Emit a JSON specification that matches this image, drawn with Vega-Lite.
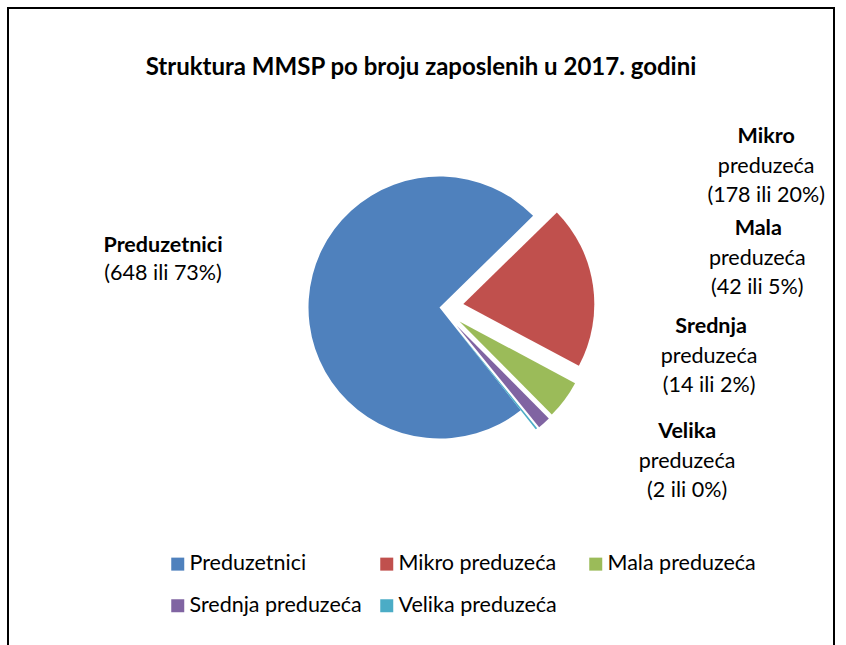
{
  "$schema": "https://vega.github.io/schema/vega-lite/v6.json",
  "width": 826,
  "height": 652,
  "autosize": {"type": "none"},
  "padding": {"left": 8, "top": 8, "right": 12, "bottom": 0},
  "background": "white",
  "config": {"view": {"stroke": null}, "font": "Lato"},
  "title": {"text": "Struktura MMSP po broju zaposlenih u 2017. godini", "font": "Lato", "fontSize": 24, "fontWeight": "bold", "color": "#000000", "anchor": "middle", "offset": -83},
  "data": {"values": [
    {"cat": "Preduzetnici", "name": "Preduzetnici", "value": 648, "rest": "(648 ili 73%)"},
    {"cat": "Mikro preduzeća", "name": "Mikro", "value": 178, "rest": "preduzeća\n(178 ili 20%)"},
    {"cat": "Mala preduzeća", "name": "Mala", "value": 42, "rest": "preduzeća\n(42 ili 5%)"},
    {"cat": "Srednja preduzeća", "name": "Srednja", "value": 14, "rest": "preduzeća\n(14 ili 2%)"},
    {"cat": "Velika preduzeća", "name": "Velika", "value": 2, "rest": "preduzeća\n(2 ili 0%)"}
  ]},
  "transform": [{"stack": "value", "groupby": [], "as": ["v0", "v1"]}],
  "layer": [
    {"transform": [{"filter": "datum.name === 'Preduzetnici'"}],
     "mark": {"type": "rect", "fill": null, "stroke": "#000000", "strokeWidth": 2},
     "encoding": {}},
    {"transform": [{"filter": "datum.name === 'Preduzetnici'"}],
     "mark": {"type": "arc", "radius": 131, "xOffset": 18.5, "yOffset": -26.5},
     "encoding": {
       "theta": {"field": "v0", "type": "quantitative", "scale": {"range": [2.4731, 8.7563]}},
       "theta2": {"field": "v1"},
       "color": {"field": "cat", "type": "nominal", "scale": {"domain": ["Preduzetnici", "Mikro preduzeća", "Mala preduzeća", "Srednja preduzeća", "Velika preduzeća"], "range": ["#4F81BD", "#C0504D", "#9BBB59", "#8064A2", "#4BACC6"]},
         "legend": {"title": null, "orient": "none", "legendX": 159, "legendY": 545, "columns": 3, "direction": "horizontal", "gridAlign": "all", "columnPadding": 14, "rowPadding": 19, "symbolType": "square", "symbolSize": 169, "symbolStrokeWidth": 0, "labelFont": "Lato", "labelFontSize": 21.5, "labelColor": "#000000", "labelOffset": 1, "padding": 0, "labelLimit": 300}}
     }},
    {"transform": [{"filter": "datum.name === 'Mikro'"}],
     "mark": {"type": "arc", "radius": 131, "xOffset": 42.3, "yOffset": -29.9},
     "encoding": {
       "theta": {"field": "v0", "type": "quantitative", "scale": {"range": [2.4731, 8.7563]}},
       "theta2": {"field": "v1"},
       "color": {"field": "cat", "type": "nominal"}
     }},
    {"transform": [{"filter": "datum.name === 'Mala'"}],
     "mark": {"type": "arc", "radius": 131, "xOffset": 38.5, "yOffset": -12.5},
     "encoding": {
       "theta": {"field": "v0", "type": "quantitative", "scale": {"range": [2.4731, 8.7563]}},
       "theta2": {"field": "v1"},
       "color": {"field": "cat", "type": "nominal"}
     }},
    {"transform": [{"filter": "datum.name === 'Srednja'"}],
     "mark": {"type": "arc", "radius": 131, "xOffset": 35.5, "yOffset": -8.5},
     "encoding": {
       "theta": {"field": "v0", "type": "quantitative", "scale": {"range": [2.4731, 8.7563]}},
       "theta2": {"field": "v1"},
       "color": {"field": "cat", "type": "nominal"}
     }},
    {"transform": [{"filter": "datum.name === 'Velika'"}],
     "mark": {"type": "arc", "radius": 131, "xOffset": 33.5, "yOffset": -7.5},
     "encoding": {
       "theta": {"field": "v0", "type": "quantitative", "scale": {"range": [2.4731, 8.7563]}},
       "theta2": {"field": "v1"},
       "color": {"field": "cat", "type": "nominal"}
     }},
    {"mark": {"type": "text", "radius": 276, "xOffset": 18.5, "yOffset": -26.5, "dx": -1, "dy": -44, "fontSize": 21.5, "fontWeight": "bold", "align": "center", "baseline": "middle", "color": "#000000"},
     "encoding": {"theta": {"field": "value", "type": "quantitative", "stack": true}, "order": {"field": "v0", "type": "quantitative"}, "detail": {"field": "cat"},
       "text": {"condition": {"test": "datum.name === 'Preduzetnici'", "field": "name"}, "value": ""}}},
    {"mark": {"type": "text", "radius": 276, "xOffset": 18.5, "yOffset": -26.5, "dx": -1, "dy": -16, "fontSize": 21.5, "align": "center", "baseline": "middle", "color": "#000000", "lineBreak": "\n", "lineHeight": 29},
     "encoding": {"theta": {"field": "value", "type": "quantitative", "stack": true}, "order": {"field": "v0", "type": "quantitative"}, "detail": {"field": "cat"},
       "text": {"condition": {"test": "datum.name === 'Preduzetnici'", "field": "rest"}, "value": ""}}},
    {"mark": {"type": "text", "radius": 330, "xOffset": 18.5, "yOffset": -26.5, "dx": 0, "dy": -124, "fontSize": 21.5, "fontWeight": "bold", "align": "center", "baseline": "middle", "color": "#000000"},
     "encoding": {"theta": {"field": "value", "type": "quantitative", "stack": true}, "order": {"field": "v0", "type": "quantitative"}, "detail": {"field": "cat"},
       "text": {"condition": {"test": "datum.name === 'Mikro'", "field": "name"}, "value": ""}}},
    {"mark": {"type": "text", "radius": 330, "xOffset": 18.5, "yOffset": -26.5, "dx": 0, "dy": -94, "fontSize": 21.5, "align": "center", "baseline": "middle", "color": "#000000", "lineBreak": "\n", "lineHeight": 29},
     "encoding": {"theta": {"field": "value", "type": "quantitative", "stack": true}, "order": {"field": "v0", "type": "quantitative"}, "detail": {"field": "cat"},
       "text": {"condition": {"test": "datum.name === 'Mikro'", "field": "rest"}, "value": ""}}},
    {"mark": {"type": "text", "radius": 300, "xOffset": 18.5, "yOffset": -26.5, "dx": 78, "dy": -257, "fontSize": 21.5, "fontWeight": "bold", "align": "center", "baseline": "middle", "color": "#000000"},
     "encoding": {"theta": {"field": "value", "type": "quantitative", "stack": true}, "order": {"field": "v0", "type": "quantitative"}, "detail": {"field": "cat"},
       "text": {"condition": {"test": "datum.name === 'Mala'", "field": "name"}, "value": ""}}},
    {"mark": {"type": "text", "radius": 300, "xOffset": 18.5, "yOffset": -26.5, "dx": 77, "dy": -227, "fontSize": 21.5, "align": "center", "baseline": "middle", "color": "#000000", "lineBreak": "\n", "lineHeight": 29},
     "encoding": {"theta": {"field": "value", "type": "quantitative", "stack": true}, "order": {"field": "v0", "type": "quantitative"}, "detail": {"field": "cat"},
       "text": {"condition": {"test": "datum.name === 'Mala'", "field": "rest"}, "value": ""}}},
    {"mark": {"type": "text", "radius": 300, "xOffset": 18.5, "yOffset": -26.5, "dx": 71, "dy": -204, "fontSize": 21.5, "fontWeight": "bold", "align": "center", "baseline": "middle", "color": "#000000"},
     "encoding": {"theta": {"field": "value", "type": "quantitative", "stack": true}, "order": {"field": "v0", "type": "quantitative"}, "detail": {"field": "cat"},
       "text": {"condition": {"test": "datum.name === 'Srednja'", "field": "name"}, "value": ""}}},
    {"mark": {"type": "text", "radius": 300, "xOffset": 18.5, "yOffset": -26.5, "dx": 69, "dy": -174, "fontSize": 21.5, "align": "center", "baseline": "middle", "color": "#000000", "lineBreak": "\n", "lineHeight": 29},
     "encoding": {"theta": {"field": "value", "type": "quantitative", "stack": true}, "order": {"field": "v0", "type": "quantitative"}, "detail": {"field": "cat"},
       "text": {"condition": {"test": "datum.name === 'Srednja'", "field": "rest"}, "value": ""}}},
    {"mark": {"type": "text", "radius": 300, "xOffset": 18.5, "yOffset": -26.5, "dx": 60, "dy": -110, "fontSize": 21.5, "fontWeight": "bold", "align": "center", "baseline": "middle", "color": "#000000"},
     "encoding": {"theta": {"field": "value", "type": "quantitative", "stack": true}, "order": {"field": "v0", "type": "quantitative"}, "detail": {"field": "cat"},
       "text": {"condition": {"test": "datum.name === 'Velika'", "field": "name"}, "value": ""}}},
    {"mark": {"type": "text", "radius": 300, "xOffset": 18.5, "yOffset": -26.5, "dx": 60, "dy": -80, "fontSize": 21.5, "align": "center", "baseline": "middle", "color": "#000000", "lineBreak": "\n", "lineHeight": 29},
     "encoding": {"theta": {"field": "value", "type": "quantitative", "stack": true}, "order": {"field": "v0", "type": "quantitative"}, "detail": {"field": "cat"},
       "text": {"condition": {"test": "datum.name === 'Velika'", "field": "rest"}, "value": ""}}}
  ]
}
